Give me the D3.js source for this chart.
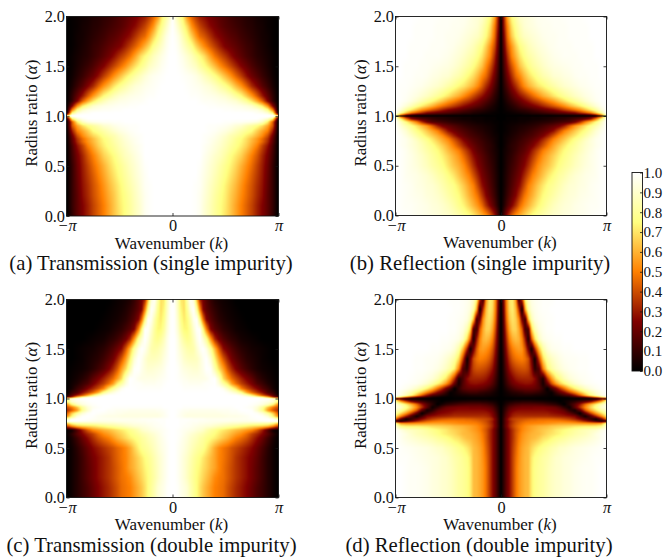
<!DOCTYPE html>
<html>
<head>
<meta charset="utf-8">
<script src="https://d3js.org/d3.v7.min.js"></script>
<style>
  html, body { margin: 0; padding: 0; background: #fff; }
  text { font-family: "Liberation Serif", serif; fill: #111; }
</style>
</head>
<body>
<svg id="chart" width="666" height="559"></svg>
<script>
// values, in percent. rows run from alpha = 2 down to alpha = 0,
// columns from k = 0 out to |k| = pi (the panels are mirror images about k = 0)
var kSingle = [0,.03,.06,.1,.14,.18,.22,.26,.3,.35,.4,.45,.5,.55,.6,.65,.7,.75,.8,.85,.9,.95,1];
var alphaSingle = [2,1.9,1.8,1.7,1.6,1.5,1.4,1.3,1.2,1.15,1.1,1.06,1.03,1.01,1,.99,.97,.94,.9,.85,.8,.77,.74,.7,.65,.6,.5,.4,.3,.2,.1,0];
var kDouble = [0,.02,.05,.08,.11,.14,.17,.2,.23,.26,.29,.32,.36,.4,.44,.48,.52,.56,.6,.65,.7,.75,.8,.85,.9,.95,1];
var alphaDouble = [2,1.9,1.8,1.7,1.6,1.5,1.4,1.3,1.2,1.15,1.1,1.06,1.03,1.01,1,.99,.97,.94,.91,.88,.85,.82,.79,.77,.75,.72,.68,.64,.6,.5,.4,.3,.2,.1,0];

var transmissionSingle = [
[100,90,82,72,54,44,36,30,27,23,20,17,15,12,10,9,7,6,4,3,2,1,0],
[100,95,88,78,68,54,45,38,33,27,23,19,16,14,12,10,8,7,5,4,2,1,0],
[100,98,94,85,76,66,55,46,42,35,28,24,20,17,15,12,10,8,6,4,3,1,0],
[100,99,96,90,84,78,68,60,52,44,37,30,24,21,18,15,12,10,7,5,3,1,0],
[100,100,98,95,91,87,81,75,69,58,48,41,35,28,22,18,14,11,8,6,4,2,0],
[100,100,99,97,94,91,88,82,77,70,62,53,46,39,32,25,20,15,11,8,5,2,0],
[100,100,100,99,98,97,95,92,88,83,77,70,62,54,45,37,28,21,16,11,7,3,0],
[100,100,100,100,99,98,97,96,94,92,88,83,78,71,62,54,44,33,25,17,11,5,0],
[100,100,100,100,100,99,99,98,97,96,95,93,91,87,81,75,65,55,43,30,19,9,0],
[100,100,100,100,100,100,100,99,98,98,97,96,95,93,91,86,80,70,58,44,25,10,0],
[100,100,100,100,100,100,100,100,100,99,99,98,98,97,96,95,93,90,82,72,54,25,0],
[100,100,100,100,100,100,100,100,100,100,100,100,99,99,98,98,97,96,95,90,78,50,0],
[100,100,100,100,100,100,100,100,100,100,100,100,100,100,100,100,100,100,98,97,92,75,3],
[100,100,100,100,100,100,100,100,100,100,100,100,100,100,100,100,100,100,100,100,99,95,40],
[100,100,100,100,100,100,100,100,100,100,100,100,100,100,100,100,100,100,100,100,100,100,100],
[100,100,100,100,100,100,100,100,100,100,100,100,100,100,100,100,100,100,100,100,99,93,30],
[100,100,100,100,100,100,100,100,100,100,100,100,100,100,100,100,100,100,100,97,90,70,3],
[100,100,100,100,100,100,100,100,100,100,100,100,99,99,98,98,97,96,94,88,72,42,0],
[100,100,100,100,100,100,100,100,100,99,99,98,97,95,92,90,85,81,76,68,57,40,0],
[100,100,100,100,100,100,100,100,100,99,98,96,94,91,87,83,79,75,66,58,50,30,0],
[100,100,100,100,100,100,100,100,99,98,96,93,90,85,82,78,72,67,60,52,40,21,0],
[100,100,100,100,100,100,100,100,99,97,95,92,88,84,79,75,69,62,55,46,35,18,0],
[100,100,100,100,100,100,100,100,99,97,94,91,87,83,78,74,68,61,54,45,33,17,0],
[100,100,100,100,100,100,100,100,98,96,93,90,86,81,77,72,66,58,50,38,28,14,0],
[100,100,100,100,100,100,100,100,98,95,92,88,84,79,74,69,62,54,45,35,25,13,0],
[100,100,100,100,100,100,100,100,97,94,90,87,82,76,71,66,58,50,42,32,23,12,0],
[100,100,100,100,100,100,100,99,96,92,88,83,78,73,67,60,53,46,38,30,21,10,0],
[100,100,100,100,100,100,100,98,95,91,86,81,76,70,64,57,50,43,36,29,20,10,0],
[100,100,100,100,100,100,99,98,94,89,84,79,73,67,61,54,47,41,34,28,19,10,0],
[100,100,100,100,100,100,99,97,93,88,82,77,72,65,59,52,46,40,33,27,18,10,0],
[100,100,100,100,100,100,99,97,92,87,81,76,71,64,57,50,44,38,31,25,18,10,0],
[100,100,100,100,100,100,99,97,92,87,81,76,70,64,57,50,44,38,31,25,18,9,0]
];

var reflectionSingle = [
[0,33,58,75,83,90,92,93,95,97,97,98,98,98,99,99,99,99,100,100,100,100,100],
[0,30,50,69,79,86,91,93,94,96,97,97,98,98,98,99,99,99,99,100,100,100,100],
[0,25,46,64,75,83,88,90,92,94,96,97,97,98,98,99,99,99,99,100,100,100,100],
[0,21,40,54,66,76,81,86,89,92,94,96,97,98,98,98,99,99,99,99,100,100,100],
[0,17,33,50,60,70,77,82,85,89,92,94,96,97,98,98,98,99,99,99,100,100,100],
[0,14,27,41,52,63,70,76,81,85,89,92,94,95,96,97,98,98,99,99,99,100,100],
[0,11,21,33,45,52,61,68,73,79,84,87,91,92,94,95,97,98,98,99,99,100,100],
[0,8,15,25,33,43,52,59,64,70,74,79,83,87,90,92,94,96,97,98,99,99,100],
[0,5,9,16,22,28,33,39,45,52,59,64,70,75,80,84,88,91,94,96,98,99,100],
[0,3,7,11,16,20,25,29,34,39,45,51,56,63,69,75,80,85,90,94,97,99,100],
[0,2,4,7,10,14,17,20,23,27,32,37,42,47,53,60,66,72,79,86,92,97,100],
[0,1,3,4,6,8,9,11,13,16,19,22,25,30,36,41,47,53,62,71,81,92,100],
[0,1,1,2,3,4,5,6,8,9,11,13,15,17,19,22,25,33,40,48,63,80,100],
[0,0,1,1,1,1,2,2,3,3,4,4,5,6,6,7,8,9,11,16,28,50,90],
[0,0,0,0,0,0,0,0,0,0,0,0,0,0,0,0,0,0,0,0,0,0,0],
[0,0,1,1,1,2,2,2,3,3,4,4,5,6,6,7,8,9,11,16,28,50,92],
[0,0,1,1,1,2,2,2,3,3,4,5,6,7,8,10,13,16,21,29,50,75,98],
[0,1,1,2,2,3,3,4,5,6,7,8,10,12,14,16,22,34,50,62,75,88,100],
[0,1,2,3,4,5,6,7,8,10,13,16,19,23,31,43,54,62,70,78,85,92,100],
[0,1,2,4,5,7,8,10,12,15,18,22,28,39,50,57,64,71,77,84,91,96,100],
[0,2,3,5,7,9,11,13,15,19,24,32,42,52,59,65,71,77,83,89,94,98,100],
[0,2,4,6,8,10,13,15,18,23,31,40,50,57,63,70,76,81,87,92,96,98,100],
[0,2,4,7,9,12,14,17,21,27,36,45,54,60,67,73,79,84,89,93,96,98,100],
[0,2,5,8,10,13,16,20,24,32,41,50,58,65,71,77,81,86,90,93,96,98,100],
[0,3,5,8,11,15,18,23,31,40,50,56,62,69,75,79,83,87,91,94,97,99,100],
[0,3,6,9,13,17,21,27,35,45,54,60,66,72,77,81,85,89,92,95,97,99,100],
[0,3,7,11,15,20,25,33,42,52,59,64,70,76,80,83,87,90,93,95,97,99,100],
[0,4,8,13,18,23,32,41,50,57,64,71,76,81,84,88,91,93,95,96,97,99,100],
[0,4,9,15,21,28,39,50,56,64,71,77,80,84,88,91,92,94,95,97,98,99,100],
[0,5,11,18,25,36,47,54,60,68,75,79,83,87,90,92,93,95,96,97,98,99,100],
[0,7,15,24,34,46,54,60,66,73,78,83,87,90,92,93,95,96,97,98,98,99,100],
[0,15,29,43,53,59,65,71,76,80,84,87,90,91,93,94,95,96,97,98,99,99,100]
];

var transmissionDouble = [
[100,98,87,71,69,84,99,92,62,32,22,16,10,6,4,3,2,1,0,0,0,0,0,0,0,0,0],
[100,99,88,74,69,79,94,100,80,50,25,18,13,9,6,4,3,2,1,0,0,0,0,0,0,0,0],
[100,99,90,77,71,75,85,97,99,75,46,25,17,12,8,6,4,3,2,1,0,0,0,0,0,0,0],
[100,99,92,81,74,74,81,91,99,99,75,50,25,17,13,9,7,5,3,2,1,0,0,0,0,0,0],
[100,100,95,87,81,78,80,87,95,100,91,80,55,33,22,16,12,9,7,4,3,2,1,0,0,0,0],
[100,100,96,91,87,84,83,84,91,97,100,95,81,61,42,27,21,16,12,8,6,4,3,2,1,0,0],
[100,100,97,94,90,88,87,87,88,92,97,100,92,73,56,42,31,22,17,12,8,6,4,2,1,0,0],
[100,100,99,96,94,93,92,91,91,93,96,100,99,84,68,56,42,32,24,17,12,8,5,3,2,1,0],
[100,100,99,98,97,96,95,95,95,95,95,96,99,100,88,68,56,46,39,31,24,18,11,7,4,2,0],
[100,100,100,99,98,98,97,97,97,97,98,99,99,100,93,82,72,56,46,37,30,23,15,11,6,3,0],
[100,100,100,100,99,99,99,99,99,99,99,99,100,100,100,97,89,80,69,50,40,32,25,16,11,4,0],
[100,100,100,100,100,100,100,100,100,100,100,100,100,100,100,100,98,94,89,78,58,45,35,27,15,10,0],
[100,100,100,100,100,100,100,100,100,100,100,100,100,100,100,100,100,100,100,97,89,75,58,42,31,17,3],
[100,100,100,100,100,100,100,100,100,100,100,100,100,100,100,100,100,100,100,100,100,100,97,87,68,38,18],
[100,100,100,100,100,100,100,100,100,100,100,100,100,100,100,100,100,100,100,100,100,100,100,100,100,100,100],
[100,100,100,100,100,100,100,100,100,100,100,100,100,100,100,100,100,100,100,100,100,100,100,99,97,90,70],
[100,100,100,100,100,100,100,100,100,100,100,100,100,100,100,100,100,100,100,100,100,100,99,97,95,92,75],
[100,100,100,100,100,100,100,100,100,100,100,100,100,100,100,100,100,100,100,100,100,99,97,94,88,75,50],
[100,100,100,100,99,99,99,99,99,99,99,99,99,99,99,99,99,99,100,100,99,97,92,80,62,48,38],
[100,100,99,98,97,97,96,96,96,96,96,96,96,96,97,97,97,98,98,100,100,99,90,78,55,42,32],
[100,100,99,97,96,95,95,95,95,95,95,95,95,95,95,96,96,97,97,98,99,100,98,92,80,65,40],
[100,100,98,97,95,94,94,94,94,94,94,94,94,94,94,94,95,95,95,96,97,99,100,99,93,74,50],
[100,100,100,99,99,99,99,98,98,98,98,97,97,97,97,97,97,97,97,97,97,98,99,100,100,98,85],
[100,100,100,99,99,99,98,98,98,97,97,97,96,96,96,96,96,95,95,95,95,96,97,98,99,100,100],
[100,100,100,99,99,98,98,97,97,96,96,95,95,94,93,92,91,90,90,89,88,87,86,85,84,78,62],
[100,100,100,99,98,98,97,96,95,94,93,92,91,89,87,85,83,81,79,76,73,70,68,66,62,52,36],
[100,100,99,98,97,96,95,94,92,91,89,85,81,78,74,71,68,65,62,59,55,51,42,30,15,3,0],
[100,100,99,98,96,94,92,90,88,86,84,81,78,75,71,67,64,60,56,52,46,38,32,25,17,8,1],
[100,100,99,97,95,93,90,88,86,83,81,78,75,72,68,64,60,55,50,46,41,34,27,20,12,5,0],
[100,100,98,96,94,91,88,85,82,80,78,73,66,58,52,48,45,41,38,34,30,26,20,14,8,3,0],
[100,100,98,95,92,89,85,81,78,75,71,67,62,57,51,48,44,40,35,31,27,23,18,12,7,3,0],
[100,100,98,95,92,88,84,80,76,73,69,66,61,57,51,47,43,39,35,31,27,22,17,12,7,3,0],
[100,100,98,95,92,88,83,79,75,71,67,63,58,52,49,47,43,39,35,31,27,22,17,12,7,3,0],
[100,100,99,96,94,91,85,80,75,69,64,60,55,50,48,46,41,37,33,29,25,20,15,11,7,3,0],
[100,100,99,96,94,91,85,80,75,69,64,60,55,50,48,46,41,37,33,29,25,20,15,11,7,3,0]
];

var reflectionDouble = [
[0,18,50,70,72,55,12,35,75,90,95,97,98,99,99,99,100,100,100,100,100,100,100,100,100,100,100],
[0,16,48,68,72,62,35,2,58,84,93,96,98,99,99,100,100,100,100,100,100,100,100,100,100,100,100],
[0,13,44,64,70,66,52,22,12,62,86,94,97,98,99,99,100,100,100,100,100,100,100,100,100,100,100],
[0,11,38,58,67,67,58,42,12,14,66,85,94,97,99,99,100,100,100,100,100,100,100,100,100,100,100],
[0,10,32,50,59,62,60,50,30,4,42,68,88,95,97,98,99,99,100,100,100,100,100,100,100,100,100],
[0,8,27,42,50,54,56,54,42,22,2,32,62,83,92,96,97,98,99,99,100,100,100,100,100,100,100],
[0,6,22,35,43,47,49,50,47,40,22,2,38,68,82,88,92,95,97,98,98,99,99,100,100,100,100],
[0,5,17,28,34,38,40,41,41,38,28,8,16,50,72,82,88,92,95,97,98,99,99,100,100,100,100],
[0,4,12,20,25,29,31,32,32,32,31,27,14,6,35,55,70,78,86,92,95,97,98,99,100,100,100],
[0,3,10,16,21,24,26,27,28,28,27,24,16,4,20,40,55,66,74,83,90,94,97,98,99,100,100],
[0,2,6,10,13,16,18,19,20,20,20,19,16,9,0,12,22,35,47,62,73,82,89,94,97,99,100],
[0,1,3,5,7,8,9,10,12,12,12,11,9,6,3,1,10,18,25,38,50,63,74,84,91,96,100],
[0,1,2,3,4,4,5,5,5,5,5,4,4,3,2,1,4,7,11,15,27,42,60,76,87,95,99],
[0,0,1,1,1,2,2,2,2,2,2,2,1,1,1,0,0,0,1,3,7,11,16,25,42,65,90],
[0,0,0,0,0,0,0,0,0,0,0,0,0,0,0,0,0,0,0,0,0,0,0,0,0,0,0],
[0,0,1,1,1,2,2,2,2,2,2,2,1,1,1,0,0,0,1,2,3,4,6,8,15,30,62],
[0,1,3,4,5,6,6,7,7,7,7,6,6,5,4,3,2,0,2,5,8,13,18,25,40,57,80],
[0,2,6,10,12,14,15,16,16,16,16,16,15,14,12,10,8,4,0,8,17,30,47,61,73,85,95],
[0,4,10,16,19,21,22,23,23,23,23,24,24,24,23,22,20,15,8,2,18,35,53,67,79,90,96],
[0,5,13,20,24,26,27,27,27,27,27,27,27,27,26,25,24,22,18,8,3,18,42,58,70,82,90],
[0,6,16,24,28,30,30,30,30,30,30,30,30,30,30,28,27,26,24,18,10,0,20,38,55,68,82],
[0,7,18,26,31,33,34,34,34,34,34,34,34,34,34,33,32,31,30,28,25,12,2,15,32,50,70],
[0,8,22,32,37,39,40,41,42,43,44,44,45,45,45,45,44,43,41,38,33,27,18,9,1,18,45],
[0,8,21,29,35,39,42,44,46,47,48,48,49,49,50,50,50,50,49,47,44,38,31,23,14,5,5],
[0,8,21,30,36,41,44,47,49,50,50,51,51,52,53,54,55,56,56,56,55,54,53,52,52,55,80],
[0,9,22,31,38,43,47,50,53,55,57,58,60,61,62,64,65,66,67,68,70,71,72,72,73,76,92],
[0,7,18,27,34,41,46,51,54,56,58,60,62,64,66,68,71,73,75,78,81,84,86,88,90,95,99],
[0,7,18,27,34,42,48,53,56,58,60,61,62,65,68,70,72,74,77,80,83,85,87,90,94,97,100],
[0,7,18,27,34,42,49,54,57,59,61,62,65,69,71,74,77,79,81,84,86,88,90,92,94,97,100],
[0,7,18,27,36,44,52,57,60,62,67,71,75,78,81,84,86,89,90,92,94,95,96,97,98,99,100],
[0,7,18,27,37,46,53,58,61,62,71,76,79,82,84,87,90,91,93,94,95,96,97,98,99,99,100],
[0,7,18,27,37,47,54,58,61,62,72,77,80,82,85,88,90,91,93,94,96,97,98,98,99,100,100],
[0,7,18,27,37,47,54,58,61,62,72,77,80,82,85,88,90,91,93,94,96,97,98,98,99,100,100],
[0,7,18,27,37,47,54,58,61,62,72,77,80,82,85,88,90,91,93,94,96,97,98,98,99,100,100],
[0,7,18,27,37,47,54,58,61,62,72,77,80,82,85,88,90,91,93,94,96,97,98,98,99,100,100]
];

var yTicks = [0, 0.5, 1, 1.5, 2];
var colorTicks = [0, .1, .2, .3, .4, .5, .6, .7, .8, .9, 1];
var captions = ["(a) Transmission (single impurity)", "(b) Reflection (single impurity)",
                "(c) Transmission (double impurity)", "(d) Reflection (double impurity)"];

// afmhot
var color = d3.scaleLinear()
    .domain([0, .25, .5, .75, 1])
    .range(["#000000", "#800000", "#ff8000", "#ffff80", "#ffffff"]);

var svg = d3.select("#chart");

var panels = [
  {x0: 66.5, x1: 278.5, y0: 16.5, y1: 216, table: transmissionSingle, ks: kSingle, alphas: alphaSingle, captionX: 151},
  {x0: 395.5, x1: 606.5, y0: 16.5, y1: 215.5, table: reflectionSingle, ks: kSingle, alphas: alphaSingle, captionX: 480},
  {x0: 66.5, x1: 278.5, y0: 299.5, y1: 497.5, table: transmissionDouble, ks: kDouble, alphas: alphaDouble, captionX: 151.5},
  {x0: 395.5, x1: 606.5, y0: 299.5, y1: 497.5, table: reflectionDouble, ks: kDouble, alphas: alphaDouble, captionX: 479}
];

panels.forEach(function(p, i) {
  var width = p.x1 - p.x0,
      height = p.y1 - p.y0;

  var xScale = d3.scaleLinear().domain([-Math.PI, Math.PI]).range([0, width]);
  var yScale = d3.scaleLinear().domain([0, 2]).range([height, 0]);

  // fractional position of a (k, alpha) inside the table
  var colIndex = d3.scaleLinear().domain(p.ks).range(d3.range(p.ks.length));
  var rowIndex = d3.scaleLinear().domain(p.alphas).range(d3.range(p.alphas.length));

  var g = svg.append("g").attr("transform", "translate(" + p.x0 + "," + p.y0 + ")");
  g.append("image")
    .attr("width", width)
    .attr("height", height)
    .attr("href", drawCells(p.table, width, height));

  function drawCells(table, w, h) {
    var canvas = document.createElement("canvas");
    canvas.width = Math.round(w);
    canvas.height = Math.round(h);
    var ctx = canvas.getContext("2d"),
        img = ctx.createImageData(canvas.width, canvas.height);
    for (var py = 0; py < canvas.height; py++) {
      var ry = rowIndex(yScale.invert(py + .5)),
          r0 = Math.min(Math.floor(ry), table.length - 2),
          fy = ry - r0;
      for (var px = 0; px < canvas.width; px++) {
        var cx = colIndex(Math.abs(xScale.invert(px + .5)) / Math.PI),
            c0 = Math.min(Math.floor(cx), table[0].length - 2),
            fx = cx - c0;
        var v = (table[r0][c0] * (1 - fx) + table[r0][c0 + 1] * fx) * (1 - fy) +
                (table[r0 + 1][c0] * (1 - fx) + table[r0 + 1][c0 + 1] * fx) * fy;
        var c = d3.rgb(color(v / 100)), n = (py * canvas.width + px) * 4;
        img.data[n] = c.r; img.data[n + 1] = c.g; img.data[n + 2] = c.b; img.data[n + 3] = 255;
      }
    }
    ctx.putImageData(img, 0, 0);
    return canvas.toDataURL();
  }

  // ticks point inwards, matplotlib style
  var yAxis = d3.axisLeft(yScale).tickValues(yTicks).tickFormat(d3.format(".1f")).tickSize(-3).tickPadding(1.5);
  var xAxis = d3.axisBottom(xScale).tickValues([-Math.PI, 0, Math.PI])
      .tickFormat(function(d) { return d < 0 ? "\u2212\u03c0" : d > 0 ? "\u03c0" : "0"; })
      .tickSize(-3).tickPadding(3.5);

  var ya = g.append("g").call(yAxis);
  var xa = g.append("g").attr("transform", "translate(0," + height + ")").call(xAxis);
  g.append("g").attr("transform", "translate(" + width + ",0)")
    .call(d3.axisRight(yScale).tickValues(yTicks).tickFormat("").tickSize(-3));
  g.append("g").call(d3.axisTop(xScale).tickValues([-Math.PI, 0, Math.PI]).tickFormat("").tickSize(-3));

  g.selectAll(".domain").remove();
  g.selectAll(".tick line").attr("stroke", "#111").attr("stroke-width", .8);
  ya.selectAll("text").attr("font-size", 16.3);
  xa.selectAll("text").attr("font-size", 16.3)
    .attr("font-style", function(d) { return d === 0 ? "normal" : "italic"; });

  g.append("rect")
    .attr("width", width).attr("height", height)
    .attr("fill", "none").attr("stroke", "#111").attr("stroke-width", .9);

  var xLabel = g.append("text")
    .attr("x", width / 2 - 1).attr("y", height + 32.5)
    .attr("text-anchor", "middle").attr("font-size", 17)
    .text("Wavenumber ");
  xLabel.append("tspan").text("(");
  xLabel.append("tspan").attr("font-style", "italic").text("k");
  xLabel.append("tspan").text(")");

  var yLabel = g.append("text")
    .attr("transform", "translate(-29.5," + (height / 2 - 3) + ") rotate(-90)")
    .attr("text-anchor", "middle").attr("font-size", 17)
    .text("Radius ratio ");
  yLabel.append("tspan").text("(");
  yLabel.append("tspan").attr("font-style", "italic").text("\u03b1");
  yLabel.append("tspan").text(")");

  svg.append("text")
    .attr("x", p.captionX).attr("y", p.y1 + 54)
    .attr("text-anchor", "middle").attr("font-size", 20.7)
    .text(captions[i]);
});

// colour bar
var barLeft = 632, barRight = 642.5, barTop = 172.5, barBottom = 371;
var barScale = d3.scaleLinear().domain([0, 1]).range([barBottom - barTop, 0]);

var grad = svg.append("defs").append("linearGradient")
    .attr("id", "afmhot").attr("x1", 0).attr("y1", 1).attr("x2", 0).attr("y2", 0);
color.domain().forEach(function(d) {
  grad.append("stop").attr("offset", d).attr("stop-color", color(d));
});

var bar = svg.append("g").attr("transform", "translate(" + barLeft + "," + barTop + ")");
bar.append("rect")
  .attr("width", barRight - barLeft).attr("height", barBottom - barTop)
  .attr("fill", "url(#afmhot)").attr("stroke", "#111").attr("stroke-width", .9);

var barAxis = bar.append("g").attr("transform", "translate(" + (barRight - barLeft) + ",0)")
    .call(d3.axisRight(barScale).tickValues(colorTicks).tickFormat(d3.format(".1f")).tickSize(-2.5).tickPadding(1));
barAxis.select(".domain").remove();
barAxis.selectAll(".tick line").attr("stroke", "#111").attr("stroke-width", .8);
barAxis.selectAll("text").attr("font-size", 15);
</script>
</body>
</html>
